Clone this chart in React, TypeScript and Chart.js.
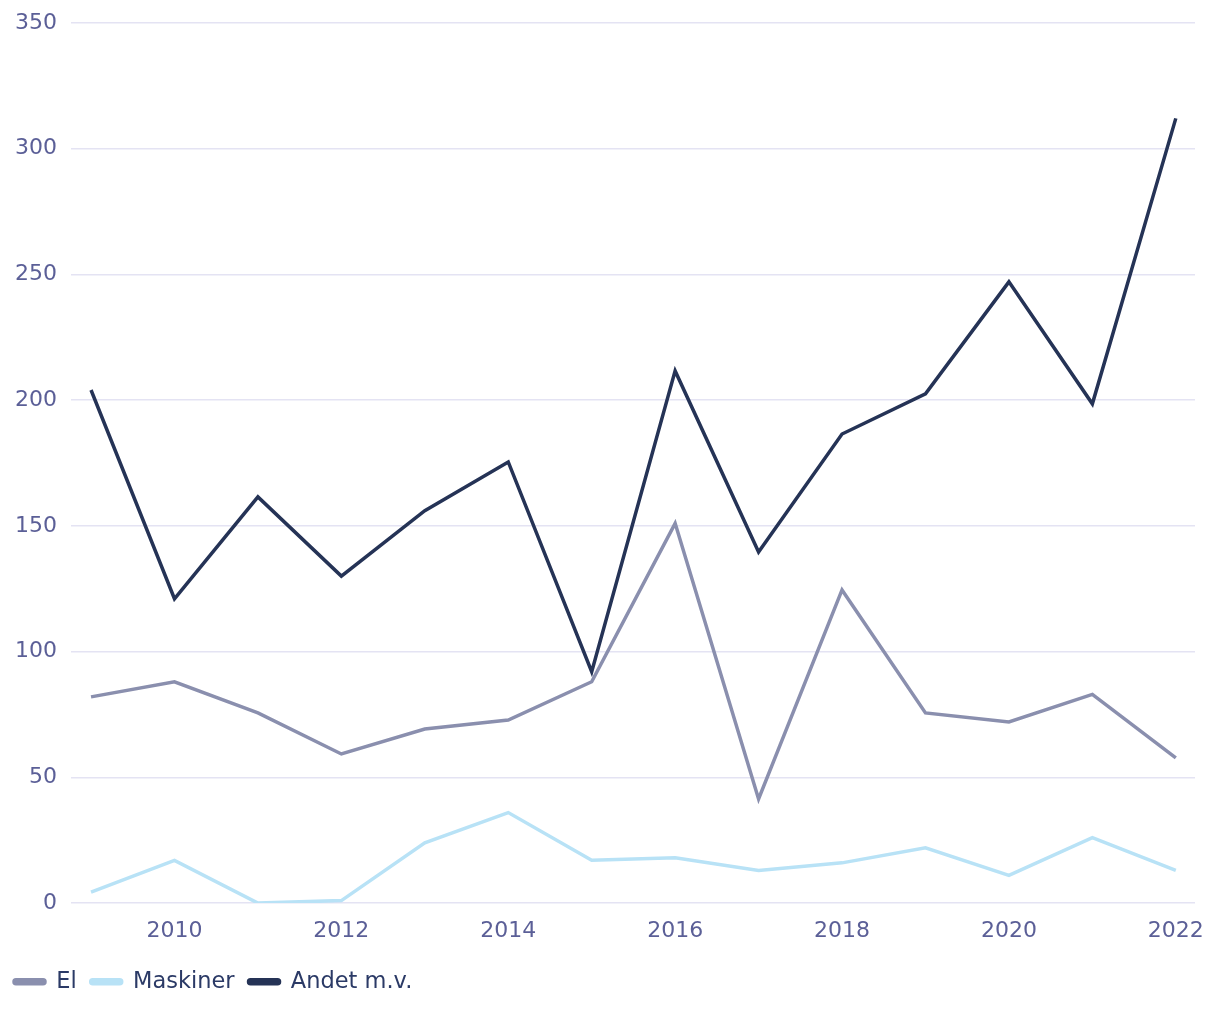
import React, { useEffect, useRef } from "react";
import { Chart, registerables } from "chart.js";

Chart.register(...registerables);

const years = [2009, 2010, 2011, 2012, 2013, 2014, 2015, 2016, 2017, 2018, 2019, 2020, 2021, 2022];
const elValues = [82, 88, 75.6, 59.3, 69.2, 72.8, 88, 151, 41.4, 124.5, 75.6, 72, 83, 57.7];
const maskinerValues = [4.4, 17, 0, 1, 24, 36, 17, 18, 13, 16, 22, 11, 26, 13];
const andetValues = [204, 121, 161.5, 130, 156, 175.4, 92, 211.6, 139.6, 186.5, 202.5, 247, 198.5, 312];
const seriesNames = ["El", "Maskiner", "Andet m.v."];
const seriesColors = ["#8a8fae", "#b8e2f6", "#253356"];
const yTicks = [0, 50, 100, 150, 200, 250, 300, 350];

const FONT = "'DejaVu Sans', sans-serif";

export default function App() {
  const ref = useRef<HTMLCanvasElement | null>(null);
  useEffect(() => {
    if (!ref.current) return;
    const all = [elValues, maskinerValues, andetValues];
    const chart = new Chart(ref.current, {
      type: "line",
      data: {
        datasets: all.map((vals, i) => ({
          label: seriesNames[i],
          data: years.map((y, j) => ({ x: y, y: vals[j] })),
          borderColor: seriesColors[i],
          backgroundColor: seriesColors[i],
          borderWidth: 3.5,
          pointRadius: 0,
          tension: 0,
        })),
      },
      options: {
        animation: false,
        responsive: false,
        maintainAspectRatio: false,
        layout: { padding: { top: 6, right: 25, bottom: 17, left: 0 } },
        plugins: {
          tooltip: { enabled: false },
          legend: {
            position: "bottom",
            align: "start",
            labels: {
              boxWidth: 31,
              boxHeight: 4,
              useBorderRadius: true,
              borderRadius: 2,
              padding: 14,
              color: "#2b3a66",
              font: { family: FONT, size: 22.5 },
            },
          },
        },
        scales: {
          x: {
            type: "linear",
            min: 2008.76,
            max: 2022.23,
            grid: { display: false },
            border: { display: false },
            afterFit: (s: any) => {
              s.height += 5;
            },
            ticks: {
              stepSize: 2,
              includeBounds: false,
              autoSkip: false,
              maxRotation: 0,
              padding: 7,
              color: "#5b5f97",
              font: { family: FONT, size: 22 },
              callback: (v: any) => String(v),
            },
          },
          y: {
            min: 0,
            max: 350,
            afterFit: (s: any) => {
              s.width = 71;
            },
            grid: { color: "#e4e3f3", lineWidth: 1.5, drawTicks: false },
            border: { display: false },
            afterBuildTicks: (s: any) => {
              s.ticks = yTicks.map((v) => ({ value: v }));
            },
            ticks: {
              padding: 14,
              color: "#5b5f97",
              font: { family: FONT, size: 22, lineHeight: 0.8 },
              callback: (v: any) => String(v),
            },
          },
        },
      },
    });
    return () => chart.destroy();
  }, []);
  return (
    <div style={{ position: "absolute", left: 0, top: 0, width: 1220, height: 1020, background: "#fff" }}>
      <canvas ref={ref} width={1220} height={1020} style={{ width: 1220, height: 1020 }} />
    </div>
  );
}
